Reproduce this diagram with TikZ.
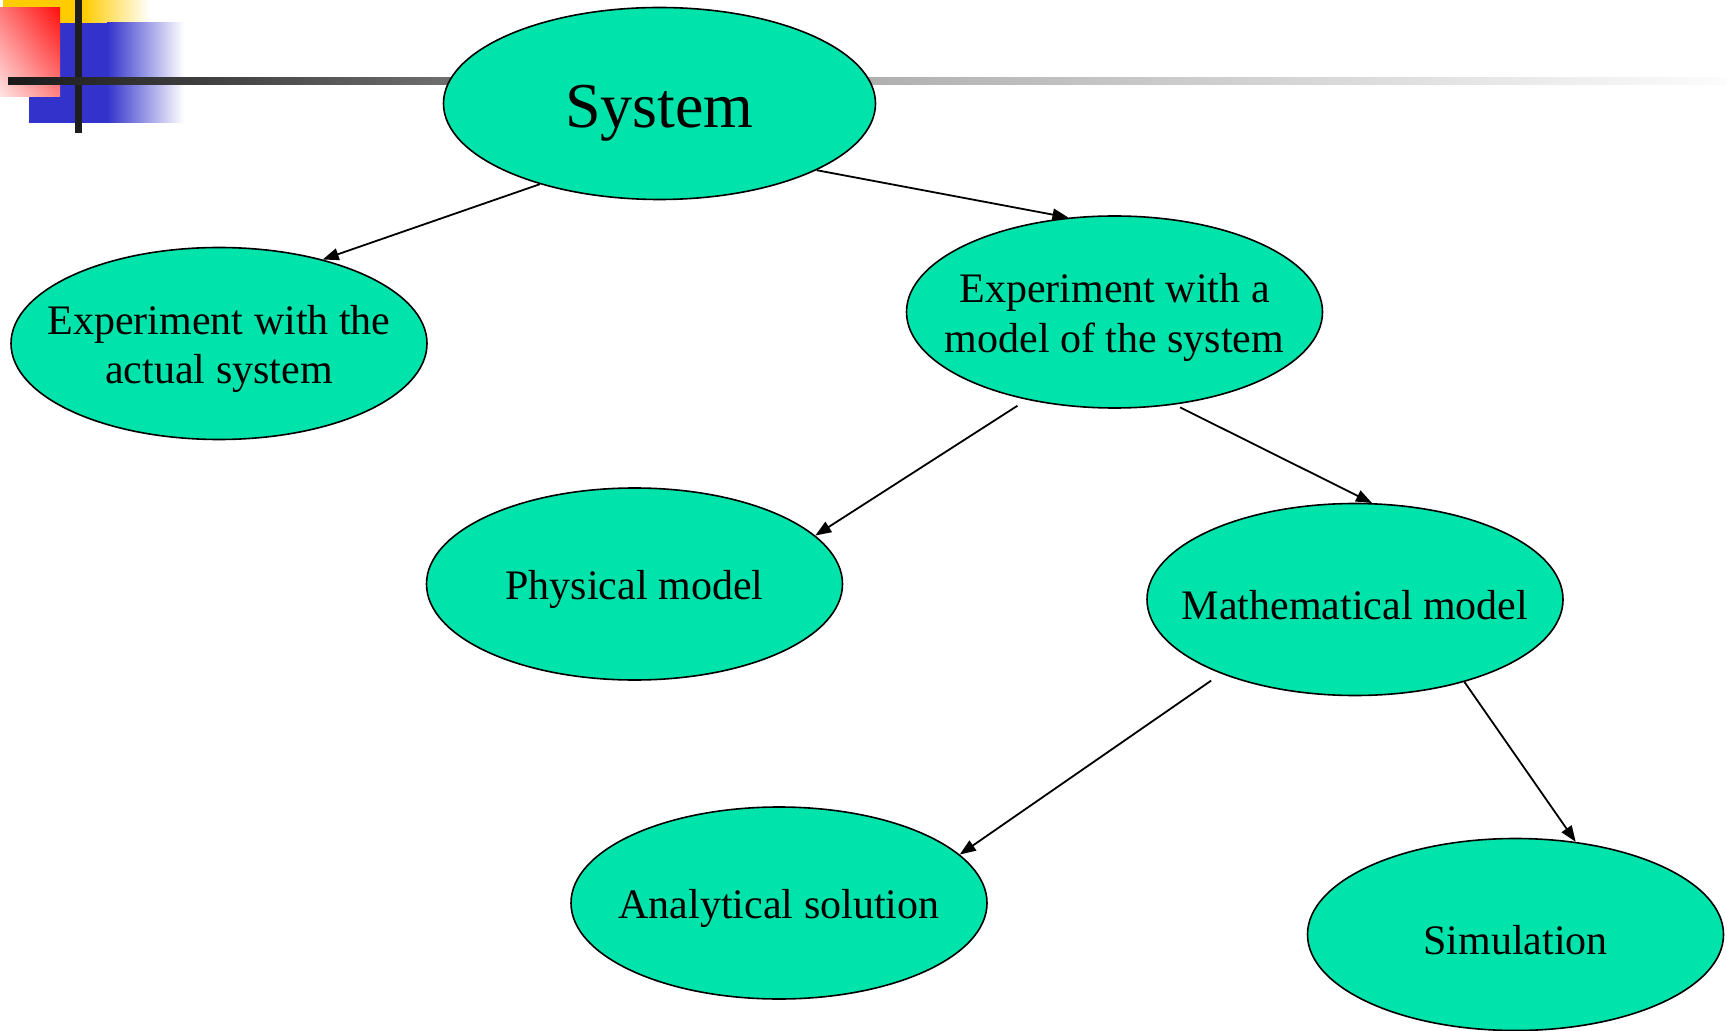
\documentclass[tikz,border=0pt]{standalone}
\usepackage{fontspec}
\setmainfont{Liberation Serif}
\usetikzlibrary{shapes.geometric,arrows.meta,shadings}
\definecolor{ovalgreen}{RGB}{0,227,170}
\definecolor{decoyellow}{RGB}{255,204,0}
\definecolor{decoblue}{RGB}{51,51,204}
\definecolor{barblack}{RGB}{30,30,30}
\definecolor{redA}{RGB}{255,15,15}
\definecolor{redB}{RGB}{255,120,120}
\definecolor{redC}{RGB}{255,130,130}
\definecolor{redD}{RGB}{255,228,228}
\definecolor{grayA}{RGB}{26,26,26}
\definecolor{grayB}{RGB}{110,110,110}
\definecolor{grayC}{RGB}{176,176,176}
\definecolor{grayD}{RGB}{252,252,252}
\begin{document}
\begin{tikzpicture}[x=0.5pt,y=-0.5pt,
  oval/.style={ellipse, draw=black, fill=ovalgreen, line width=0.8pt, inner sep=0pt,
    minimum width=208pt, minimum height=96pt},
  txt/.style={align=center, font=\fontsize{21}{24.8}\selectfont, inner sep=0pt, yshift=-2.8pt},
  conn/.style={line width=0.9pt, -{Triangle[length=8pt,width=6pt]}}]
\useasboundingbox (0,0) rectangle (1727,1031);
\fill[white] (0,0) rectangle (1727,1031);
% decoration
\fill[decoyellow] (3,0) rectangle (83,23);
\shade[left color=decoyellow, right color=white] (83,0) rectangle (150,23);
\fill[decoblue] (29,23) rectangle (107,123);
\shade[left color=decoblue, right color=white] (107,23) rectangle (184,123);
\shade[upper right=redA, upper left=redB, lower right=redC, lower left=redD]
  (0,8) rectangle (60,97);
\fill[barblack] (75,0) rectangle (82,133);
\shade[left color=grayA, right color=grayB] (8,78) rectangle (446,85);
\shade[left color=grayB, right color=grayC] (445,78) rectangle (877,85);
\shade[left color=grayC, right color=grayD] (876,78) rectangle (1727,85);
% nodes
\node[oval, minimum width=216pt] (sys) at (659.5,103.5) {};
\node[txt, font=\fontsize{32}{36}\selectfont, yshift=-2.2pt] (sys-t) at (sys) {System};
\node[oval] (act) at (219,343.5) {};
\node[txt] (act-t) at (act) {Experiment with the\\actual system};
\node[oval] (mod) at (1114.5,312) {};
\node[txt] (mod-t) at (mod) {Experiment with a\\model of the system};
\node[oval] (phy) at (634.5,584) {};
\node[txt] (phy-t) at (phy) {Physical model};
\node[oval] (mat) at (1355,599.5) {};
\node[txt] (mat-t) at (mat) {Mathematical model};
\node[oval] (ana) at (779,903) {};
\node[txt] (ana-t) at (ana) {Analytical solution};
\node[oval] (sim) at (1515.5,934.5) {};
\node[txt] (sim-t) at (sim) {Simulation};
% connectors
\draw[conn] (sys.214) -- (act.39.4);
\draw[conn] (sys.337) -- (mod.116.8);
\draw[conn, shorten <=5.5pt] (mod.225.4) -- (phy.15.4);
\draw[conn, shorten <=3pt] (mod.303.2) -- (mat.80.5);
\draw[conn, shorten <=6pt] (mat.209.3) -- (ana.15.1);
\draw[conn] (mat.323.9) -- (sim.57.1);
\end{tikzpicture}
\end{document}
